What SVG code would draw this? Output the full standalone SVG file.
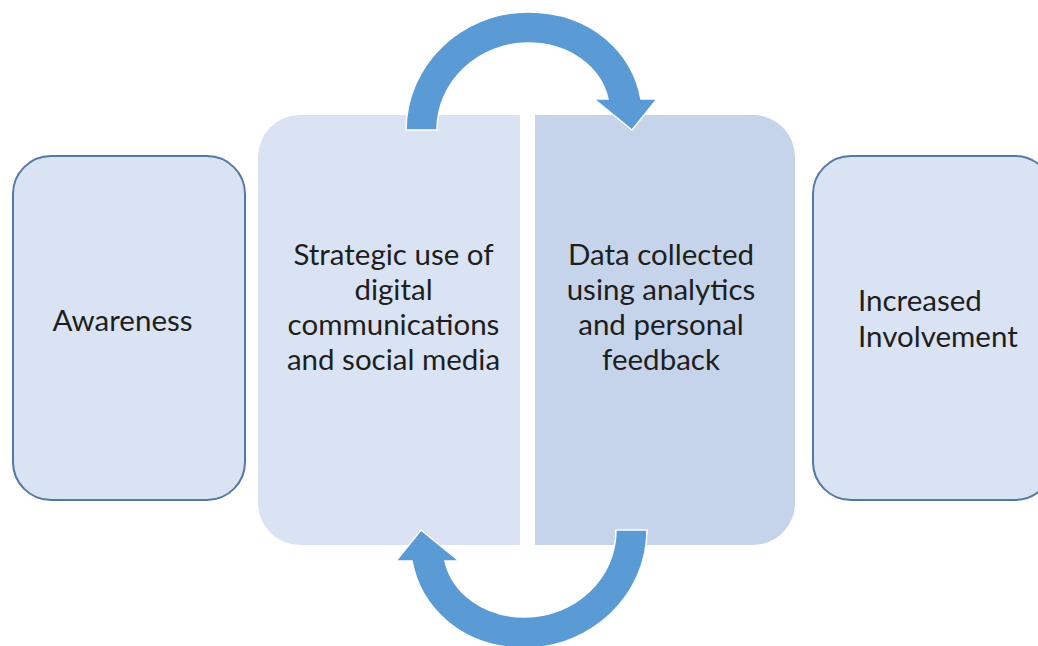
<svg xmlns="http://www.w3.org/2000/svg" width="1038" height="646" viewBox="0 0 1038 646">
  <defs>
    <style>
      .lbl { font-family: Lato, "Liberation Sans", Arial, sans-serif; font-size: 29.5px; fill: #1e1e1e; }
      .mid { text-anchor: middle; }
      .side { fill: #dae3f3; stroke: #5679a3; stroke-width: 2; }
      .loop { fill: #5b9bd5; stroke: #ffffff; stroke-width: 1.5; stroke-linejoin: miter; }
    </style>
    <!-- curved arrow: tail at lower left, head pointing down at right -->
    <path id="curved-arrow" d="M406,130 C406,65 461,12 528,12 C594,12 633,55 641,99 L657,99 L632,130 L594,99 L608,99 C601,68 570,43 528,43 C478,43 437,82 437,130 Z"/>
  </defs>

  <rect width="1038" height="646" fill="#ffffff"/>

  <g id="awareness">
    <rect class="side" x="13" y="156" width="232" height="344" rx="38" ry="38"/>
    <text class="lbl mid" x="122.5" y="330.5">Awareness</text>
  </g>

  <g id="strategic-use">
    <path d="M520,115 L300,115 A42,42 0 0 0 258,157 L258,503 A42,42 0 0 0 300,545 L520,545 Z" fill="#dae3f3"/>
    <text class="lbl mid" x="393.5" y="265">Strategic use of</text>
    <text class="lbl mid" x="393.5" y="300">digital</text>
    <text class="lbl mid" x="393.5" y="335">communications</text>
    <text class="lbl mid" x="393.5" y="370">and social media</text>
  </g>

  <g id="data-collected">
    <path d="M535,115 L753,115 A42,42 0 0 1 795,157 L795,503 A42,42 0 0 1 753,545 L535,545 Z" fill="#c5d4ea"/>
    <text class="lbl mid" x="661" y="265">Data collected</text>
    <text class="lbl mid" x="661" y="300">using analytics</text>
    <text class="lbl mid" x="661" y="335">and personal</text>
    <text class="lbl mid" x="661" y="370">feedback</text>
  </g>

  <g id="increased-involvement">
    <rect class="side" x="813" y="156" width="240" height="344" rx="38" ry="38"/>
    <text class="lbl" x="858" y="310.5">Increased</text>
    <text class="lbl" x="858" y="346.5">Involvement</text>
  </g>

  <g id="connectors">
    <use href="#curved-arrow" class="loop"/>
    <use href="#curved-arrow" class="loop" transform="rotate(180 526.5 330)"/>
  </g>
</svg>
